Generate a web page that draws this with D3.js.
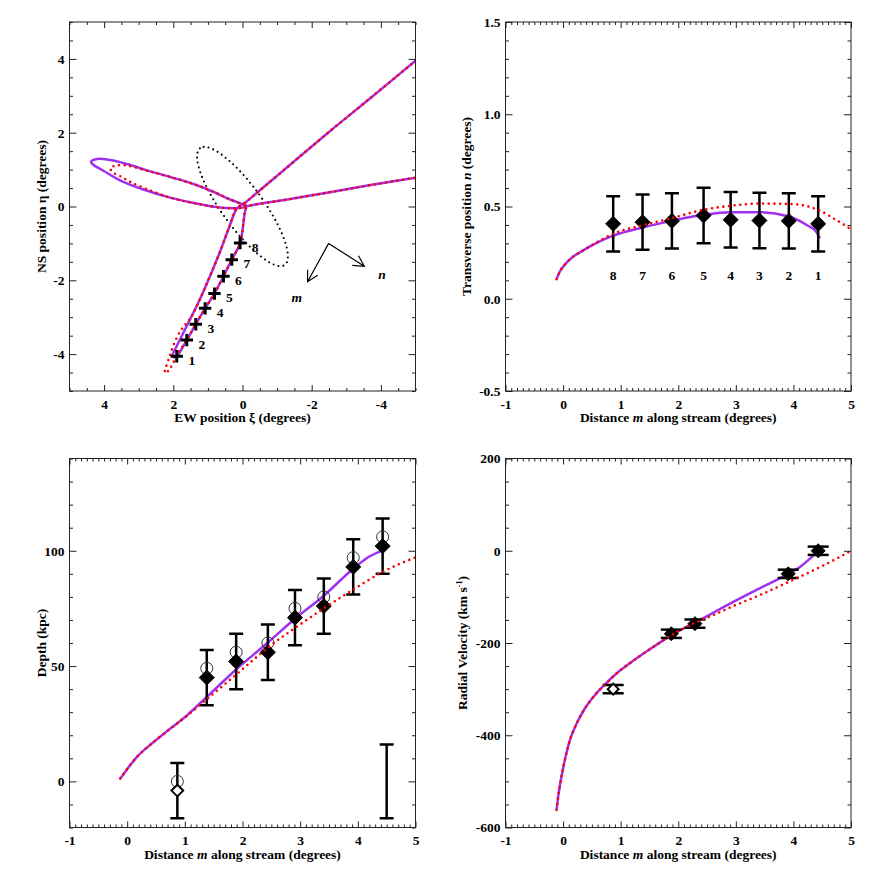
<!DOCTYPE html>
<html>
<head>
<meta charset="utf-8">
<script src="https://cdn.jsdelivr.net/npm/d3@7"></script>
<style>
  body { margin: 0; background: #fff; }
</style>
</head>
<body>
<div id="chart"></div>
<script>
// Fields 1-8 along the stream (listed from field 8 to field 1)
const fieldLabels = ['8', '7', '6', '5', '4', '3', '2', '1'];
const fieldXi     = [0.07, 0.31, 0.55, 0.81, 1.08, 1.35, 1.61, 1.90];
const fieldEta    = [-0.99, -1.44, -1.89, -2.36, -2.76, -3.19, -3.62, -4.06];
const fieldM      = [0.87, 1.38, 1.89, 2.44, 2.91, 3.41, 3.92, 4.43];
const fieldN      = [0.406, 0.415, 0.422, 0.451, 0.428, 0.424, 0.422, 0.406];
const fieldNErr   = [0.15, 0.15, 0.15, 0.15, 0.15, 0.15, 0.15, 0.15];

// Depth per field (diamonds), alternative estimate (circles)
const depthValue  = [-4, 45, 52, 56, 71, 76, 93, 102];
const depthAlt    = [0, 49, 56, 60, 75, 80, 97, 106];
const depthErr    = [12, 12, 12, 12, 12, 12, 12, 12];
const depthOpen   = [true, false, false, false, false, false, false, false];
const extraBarM   = [4.50];
const extraBarD   = [0];
const extraBarErr = [16];

// Radial velocities
const rvM    = [0.87, 1.88, 2.29, 3.91, 4.43];
const rvV    = [-300, -180, -158, -50, 0];
const rvErr  = [9, 9, 9, 9, 9];
const rvOpen = [true, false, false, false, false];

// Orbit models on the sky (xi, eta): solid model and dotted model
const skyModel = [
  [-5.00, 3.95], [-3.70, 2.94], [-2.50, 2.02], [-1.20, 0.99], [-0.35, 0.32], [-0.10, 0.12],
  [0.16, -0.05], [0.38, -0.55], [0.63, -1.18], [0.91, -1.82], [1.20, -2.45], [1.48, -2.99],
  [1.72, -3.44], [1.91, -3.80], [2.02, -4.03], [1.98, -4.09],
  [1.90, -4.06], [1.61, -3.62], [1.35, -3.19], [1.08, -2.76], [0.81, -2.36], [0.55, -1.89],
  [0.31, -1.44], [0.07, -0.99], [-0.06, -0.19], [-0.10, 0.03],
  [0.02, 0.07], [0.36, 0.19], [0.84, 0.40], [1.42, 0.61], [2.09, 0.80], [2.76, 0.98],
  [3.34, 1.15], [3.82, 1.26], [4.21, 1.29], [4.38, 1.21], [4.31, 1.13], [4.02, 0.97],
  [3.54, 0.71], [2.86, 0.46], [2.09, 0.24], [1.22, 0.06], [0.65, -0.03], [0.26, -0.05],
  [-0.01, -0.03], [-0.13, 0.01], [-1.30, 0.19], [-2.44, 0.375], [-3.70, 0.58], [-5.00, 0.78]
];
const skyAlt = [
  [-5.00, 3.95], [-3.70, 2.94], [-2.50, 2.02], [-1.20, 0.99], [-0.35, 0.32], [-0.10, 0.12],
  [0.16, -0.05], [0.38, -0.55], [0.63, -1.18], [0.91, -1.82], [1.20, -2.45], [1.48, -2.99],
  [1.65, -3.20], [1.81, -3.40], [1.99, -3.75], [2.12, -4.10], [2.22, -4.38], [2.25, -4.51],
  [2.16, -4.47], [2.09, -4.39], [1.98, -4.20], [1.81, -3.90], [1.61, -3.62], [1.35, -3.19],
  [1.08, -2.76], [0.81, -2.36], [0.55, -1.89], [0.31, -1.44], [0.07, -0.99], [-0.06, -0.19], [-0.10, 0.03],
  [0.02, 0.07], [0.36, 0.19], [0.84, 0.40], [1.42, 0.61], [2.09, 0.80], [2.76, 0.97],
  [3.34, 1.11], [3.63, 1.11], [3.82, 1.04], [3.75, 0.93], [3.49, 0.80], [3.25, 0.67],
  [2.76, 0.47], [2.09, 0.24], [1.22, 0.06], [0.65, -0.03], [0.26, -0.05], [-0.01, -0.03],
  [-0.13, 0.01], [-1.30, 0.19], [-2.44, 0.375], [-3.70, 0.58], [-5.00, 0.78]
];

// Disk outline: centre, semi-axes (deg), position angle (deg E of N)
const diskCentre = [0, 0];
const diskAxes   = [2.0, 0.58];
const diskPA     = 38;

// Direction arrows (vertex, m tip, n tip) and their labels
const arrowBase   = [-2.49, -1.00];
const arrowM      = [-1.88, -2.04];
const arrowN      = [-3.52, -1.62];
const arrowLabelM = [-1.57, -2.45];
const arrowLabelN = [-4.03, -1.83];

// Models along the stream (m, value)
const nModel = [
  [-0.114, 0.106], [-0.06, 0.145], [0.03, 0.185], [0.15, 0.222], [0.349, 0.262], [0.60, 0.305],
  [0.87, 0.342], [1.38, 0.386], [1.884, 0.422], [2.434, 0.455], [2.909, 0.469], [3.418, 0.469],
  [3.922, 0.446], [4.23, 0.40], [4.40, 0.361], [4.46, 0.328]
];
const nAlt = [
  [-0.114, 0.106], [-0.06, 0.145], [0.03, 0.185], [0.15, 0.222], [0.349, 0.262], [0.60, 0.308],
  [0.87, 0.352], [1.38, 0.398], [1.884, 0.437], [2.434, 0.482], [2.909, 0.504], [3.418, 0.516],
  [3.922, 0.514], [4.43, 0.482], [4.69, 0.437], [5.0, 0.377]
];
const depthModel = [
  [-0.12, 1.2], [0.17, 10.6], [0.46, 17.1], [0.75, 22.9], [1.04, 28.7], [1.38, 36.6],
  [1.89, 48.5], [2.44, 60.2], [2.91, 70.5], [3.41, 80.5], [3.91, 92.0], [4.2, 97.5], [4.43, 100.2]
];
const depthAltModel = [
  [-0.12, 1.2], [0.17, 10.6], [0.46, 17.1], [0.75, 22.9], [1.04, 28.5], [1.38, 35.6],
  [1.90, 46.5], [2.25, 54.0], [2.44, 58.0], [2.91, 66.5], [3.41, 75.0], [3.91, 83.0],
  [4.43, 90.8], [5.0, 97.1]
];
const rvModel = [
  [-0.114, -562], [-0.086, -534], [-0.039, -497], [0.03, -454], [0.117, -411], [0.234, -375],
  [0.378, -342], [0.552, -313], [0.725, -290], [0.957, -263], [1.189, -241], [1.478, -216],
  [1.884, -183], [2.289, -156], [2.6, -135], [2.955, -111], [3.42, -81], [3.911, -50],
  [4.114, -35], [4.288, -17], [4.39, -5], [4.43, 0]
];
const rvAltModel = [
  [-0.114, -562], [-0.086, -534], [-0.039, -497], [0.03, -454], [0.117, -411], [0.234, -375],
  [0.378, -342], [0.552, -313], [0.725, -290], [0.957, -263], [1.189, -241], [1.478, -216],
  [1.884, -183], [2.289, -156], [2.6, -140], [2.955, -120], [3.4, -97], [3.911, -68],
  [4.404, -39], [4.69, -21], [5.0, 0]
];

const WIDTH = 872, HEIGHT = 872;
const FONT = "'Liberation Serif', 'Times New Roman', serif";
const COLORS = {
  model: '#a030f0',
  alt:   '#ff0000',
  ink:   '#000',
  frame: '#222'
};
const BOXES = {
  tl: { x0: 69.5,  x1: 415.5, y0: 391,   y1: 22 },
  tr: { x0: 505.5, x1: 851,   y0: 391,   y1: 22 },
  bl: { x0: 69.5,  x1: 415.5, y0: 827.5, y1: 458.5 },
  br: { x0: 505.5, x1: 851,   y0: 827.5, y1: 458.5 }
};

let svg = d3.select('#chart').append('svg')
  .attr('width', WIDTH)
  .attr('height', HEIGHT)
  .style('background-color', '#fff');

let clipId = 0;
function makePanel(box, xDomain, yDomain) {
  let id = `clip${clipId++}`;
  svg.append('clipPath').attr('id', id)
    .append('rect')
      .attr('x', box.x0).attr('y', box.y1)
      .attr('width', box.x1 - box.x0).attr('height', box.y0 - box.y1);
  let g = svg.append('g');
  return {
    box: box,
    g: g,
    plot: g.append('g').attr('clip-path', `url(#${id})`),
    x: d3.scaleLinear().domain(xDomain).range([box.x0, box.x1]),
    y: d3.scaleLinear().domain(yDomain).range([box.y0, box.y1])
  };
}

function tickRange(domain, step) {
  let lo = Math.min(...domain), hi = Math.max(...domain);
  return d3.range(Math.ceil(lo / step - 1e-6), Math.floor(hi / step + 1e-6) + 1)
    .map(i => Math.round(i * step * 1000) / 1000);
}

// Inward ticks on all four sides, labels on bottom and left
function drawAxes(p, s) {
  let xMajor = tickRange(p.x.domain(), s.xMajor);
  let yMajor = tickRange(p.y.domain(), s.yMajor);
  let xMinor = tickRange(p.x.domain(), s.xMinor).filter(v => !xMajor.includes(v));
  let yMinor = tickRange(p.y.domain(), s.yMinor).filter(v => !yMajor.includes(v));
  let b = p.box;
  let sides = [
    { make: d3.axisBottom, scale: p.x, at: `translate(0,${b.y0})`, major: xMajor, minor: xMinor, len: 6, fmt: s.xFmt, pad: 8 },
    { make: d3.axisTop,    scale: p.x, at: `translate(0,${b.y1})`, major: xMajor, minor: xMinor, len: 6 },
    { make: d3.axisLeft,   scale: p.y, at: `translate(${b.x0},0)`, major: yMajor, minor: yMinor, len: 7, fmt: s.yFmt, pad: 5 },
    { make: d3.axisRight,  scale: p.y, at: `translate(${b.x1},0)`, major: yMajor, minor: yMinor, len: 7 }
  ];
  for (let side of sides) {
    p.g.append('g')
      .attr('transform', side.at)
      .call(side.make(side.scale).tickValues(side.minor).tickSize(-side.len / 2).tickSizeOuter(0).tickFormat(''))
      .call(g => g.select('.domain').remove())
      .attr('color', COLORS.frame);
    p.g.append('g')
      .attr('transform', side.at)
      .call(side.make(side.scale).tickValues(side.major).tickSize(-side.len).tickSizeOuter(0)
        .tickPadding(side.pad || 0).tickFormat(side.fmt || (() => '')))
      .call(g => g.select('.domain').remove())
      .attr('color', COLORS.frame)
      .attr('font-family', FONT)
      .attr('font-size', 13.5)
      .attr('font-weight', 'bold')
      .selectAll('text').attr('fill', COLORS.ink);
  }
  p.g.append('rect')
    .attr('x', b.x0).attr('y', b.y1)
    .attr('width', b.x1 - b.x0).attr('height', b.y0 - b.y1)
    .style('fill', 'none')
    .style('stroke', COLORS.frame)
    .style('stroke-width', 1);
}

// Axis titles made of [text, italic, superscript] parts
function title(p, parts, vertical, offset) {
  let b = p.box;
  let t = p.g.append('text')
    .attr('font-family', FONT)
    .attr('font-size', 13.5)
    .attr('font-weight', 'bold')
    .attr('fill', COLORS.ink)
    .attr('text-anchor', 'middle');
  if (vertical) {
    let x = b.x0 - offset, y = (b.y0 + b.y1) / 2;
    t.attr('transform', `translate(${x},${y}) rotate(-90)`);
  } else {
    t.attr('x', (b.x0 + b.x1) / 2).attr('y', b.y0 + offset);
  }
  let raised = false;
  for (let [txt, italic, sup] of parts) {
    let span = t.append('tspan').text(txt);
    if (italic) span.attr('font-style', 'italic');
    if (sup) {
      span.attr('font-size', 8).attr('dy', -5);
      raised = true;
    } else if (raised) {
      span.attr('dy', 5);
      raised = false;
    }
  }
}

function drawLine(p, pts, kind, curve) {
  let line = d3.line()
    .x(d => p.x(d[0]))
    .y(d => p.y(d[1]))
    .curve(curve || d3.curveMonotoneX);
  let path = p.plot.append('path')
    .attr('d', line(pts))
    .style('fill', 'none');
  if (kind === 'model') {
    path.style('stroke', COLORS.model).style('stroke-width', 2.5);
  } else {
    path.style('stroke', COLORS.alt).style('stroke-width', 2.6)
      .style('stroke-linecap', 'round').style('stroke-dasharray', '0 5.7');
  }
  return path;
}

function errorBars(p, xs, ys, errs, cap) {
  xs.forEach((m, i) => {
    let x = p.x(m), ya = p.y(ys[i] - errs[i]), yb = p.y(ys[i] + errs[i]);
    let g = p.plot.append('g')
      .style('stroke', COLORS.ink)
      .style('stroke-width', 2.5);
    g.append('line').attr('x1', x).attr('x2', x).attr('y1', ya).attr('y2', yb);
    for (let yy of [ya, yb]) {
      g.append('line').attr('x1', x - cap).attr('x2', x + cap).attr('y1', yy).attr('y2', yy);
    }
  });
}

function diamonds(p, xs, ys, open, size) {
  p.plot.selectAll(null)
      .data(xs.map((m, i) => ({ m: m, v: ys[i], open: open ? open[i] : false })))
    .enter().append('path')
      .attr('d', d => {
        let r = d.open ? size * 0.78 : size;
        let x = p.x(d.m), y = p.y(d.v);
        return `M${x},${y - r}L${x + r},${y}L${x},${y + r}L${x - r},${y}Z`;
      })
      .style('fill', d => d.open ? '#fff' : COLORS.ink)
      .style('stroke', COLORS.ink)
      .style('stroke-width', d => d.open ? 2 : 1);
}

// ---------------- Top left: sky positions ----------------
let tl = makePanel(BOXES.tl, [5, -5], [-5, 5]);
let skyCurve = d3.curveCatmullRom.alpha(0.5);

// Disk ellipse
let pa = diskPA * Math.PI / 180;
let ellipse = d3.range(0, 361, 2).map(a => {
  let t = a * Math.PI / 180;
  let u = diskAxes[0] * Math.cos(t), v = diskAxes[1] * Math.sin(t);
  return [diskCentre[0] + u * Math.sin(pa) + v * Math.cos(pa),
          diskCentre[1] + u * Math.cos(pa) - v * Math.sin(pa)];
});
tl.plot.append('path')
  .attr('d', d3.line().x(d => tl.x(d[0])).y(d => tl.y(d[1]))(ellipse))
  .style('fill', 'none')
  .style('stroke', COLORS.ink)
  .style('stroke-width', 2.1)
  .style('stroke-linecap', 'round')
  .style('stroke-dasharray', '0 5');

drawLine(tl, skyModel, 'model', skyCurve);
drawLine(tl, skyAlt, 'alt', skyCurve);

// Field crosses and numbers
fieldXi.forEach((xi, i) => {
  let x = tl.x(xi), y = tl.y(fieldEta[i]);
  tl.plot.append('path')
    .attr('d', `M${x - 6.2},${y}H${x + 6.2}M${x},${y - 6.2}V${y + 6.2}`)
    .style('stroke', COLORS.ink)
    .style('stroke-width', 3);
  tl.plot.append('text')
    .text(fieldLabels[i])
    .attr('x', x + 15)
    .attr('y', y + 4)
    .attr('dy', '0.35em')
    .attr('text-anchor', 'middle')
    .attr('font-family', FONT)
    .attr('font-size', 13.5)
    .attr('font-weight', 'bold');
});

// m and n direction arrows
for (let [tip, lab, txt] of [[arrowM, arrowLabelM, 'm'], [arrowN, arrowLabelN, 'n']]) {
  let x0 = tl.x(arrowBase[0]), y0 = tl.y(arrowBase[1]);
  let x1 = tl.x(tip[0]), y1 = tl.y(tip[1]);
  let ang = Math.atan2(y0 - y1, x0 - x1);
  let head = [-0.5, 0.5].map(da => [x1 + 12 * Math.cos(ang + da), y1 + 12 * Math.sin(ang + da)]);
  tl.plot.append('path')
    .attr('d', `M${x0},${y0}L${x1},${y1}M${head[0][0]},${head[0][1]}L${x1},${y1}L${head[1][0]},${head[1][1]}`)
    .style('fill', 'none')
    .style('stroke', COLORS.ink)
    .style('stroke-width', 1.2);
  tl.plot.append('text')
    .text(txt)
    .attr('x', tl.x(lab[0]))
    .attr('y', tl.y(lab[1]))
    .attr('dy', '0.35em')
    .attr('text-anchor', 'middle')
    .attr('font-family', FONT)
    .attr('font-size', 13.5)
    .attr('font-weight', 'bold')
    .attr('font-style', 'italic');
}

drawAxes(tl, { xMajor: 2, xMinor: 0.5, yMajor: 2, yMinor: 0.5, xFmt: d => String(d), yFmt: d => String(d) });
title(tl, [['EW position ξ (degrees)']], false, 31);
title(tl, [['NS position η (degrees)']], true, 23.5);

// ---------------- Top right: transverse position ----------------
let tr = makePanel(BOXES.tr, [-1, 5], [-0.5, 1.5]);
drawLine(tr, nModel, 'model');
errorBars(tr, fieldM, fieldN, fieldNErr, 7);
diamonds(tr, fieldM, fieldN, null, 7.5);
drawLine(tr, nAlt, 'alt');
tr.plot.selectAll('.field-label')
    .data(fieldLabels)
  .enter().append('text')
    .attr('class', 'field-label')
    .text(d => d)
    .attr('x', (d, i) => tr.x(fieldM[i]))
    .attr('y', tr.y(0.128))
    .attr('dy', '0.35em')
    .attr('text-anchor', 'middle')
    .attr('font-family', FONT)
    .attr('font-size', 13.5)
    .attr('font-weight', 'bold');
drawAxes(tr, { xMajor: 1, xMinor: 0.1, yMajor: 0.5, yMinor: 0.1, xFmt: d => String(d), yFmt: d => d.toFixed(1) });
title(tr, [['Distance '], ['m', true], [' along stream (degrees)']], false, 31);
title(tr, [['Transverse position '], ['n', true], [' (degrees)']], true, 35);

// ---------------- Bottom left: depth ----------------
let bl = makePanel(BOXES.bl, [-1, 5], [-20, 140]);
drawLine(bl, depthModel, 'model');
errorBars(bl, fieldM, depthValue, depthErr, 7);
errorBars(bl, extraBarM, extraBarD, extraBarErr, 7);
bl.plot.selectAll('.alt-depth')
    .data(fieldM)
  .enter().append('circle')
    .attr('class', 'alt-depth')
    .attr('cx', d => bl.x(d))
    .attr('cy', (d, i) => bl.y(depthAlt[i]))
    .attr('r', 6)
    .style('fill', 'none')
    .style('stroke', '#333')
    .style('stroke-width', 1);
diamonds(bl, fieldM, depthValue, depthOpen, 7.5);
drawLine(bl, depthAltModel, 'alt');
drawAxes(bl, { xMajor: 1, xMinor: 0.1, yMajor: 50, yMinor: 10, xFmt: d => String(d), yFmt: d => String(d) });
title(bl, [['Distance '], ['m', true], [' along stream (degrees)']], false, 31);
title(bl, [['Depth (kpc)']], true, 24);

// ---------------- Bottom right: radial velocity ----------------
let br = makePanel(BOXES.br, [-1, 5], [-600, 200]);
drawLine(br, rvModel, 'model');
errorBars(br, rvM, rvV, rvErr, 10.5);
diamonds(br, rvM, rvV, rvOpen, 7);
drawLine(br, rvAltModel, 'alt');
drawAxes(br, { xMajor: 1, xMinor: 0.1, yMajor: 200, yMinor: 50, xFmt: d => String(d), yFmt: d => String(d) });
title(br, [['Distance '], ['m', true], [' along stream (degrees)']], false, 31);
title(br, [['Radial Velocity (km s'], ['-1', false, true], [')']], true, 39);
</script>
</body>
</html>
